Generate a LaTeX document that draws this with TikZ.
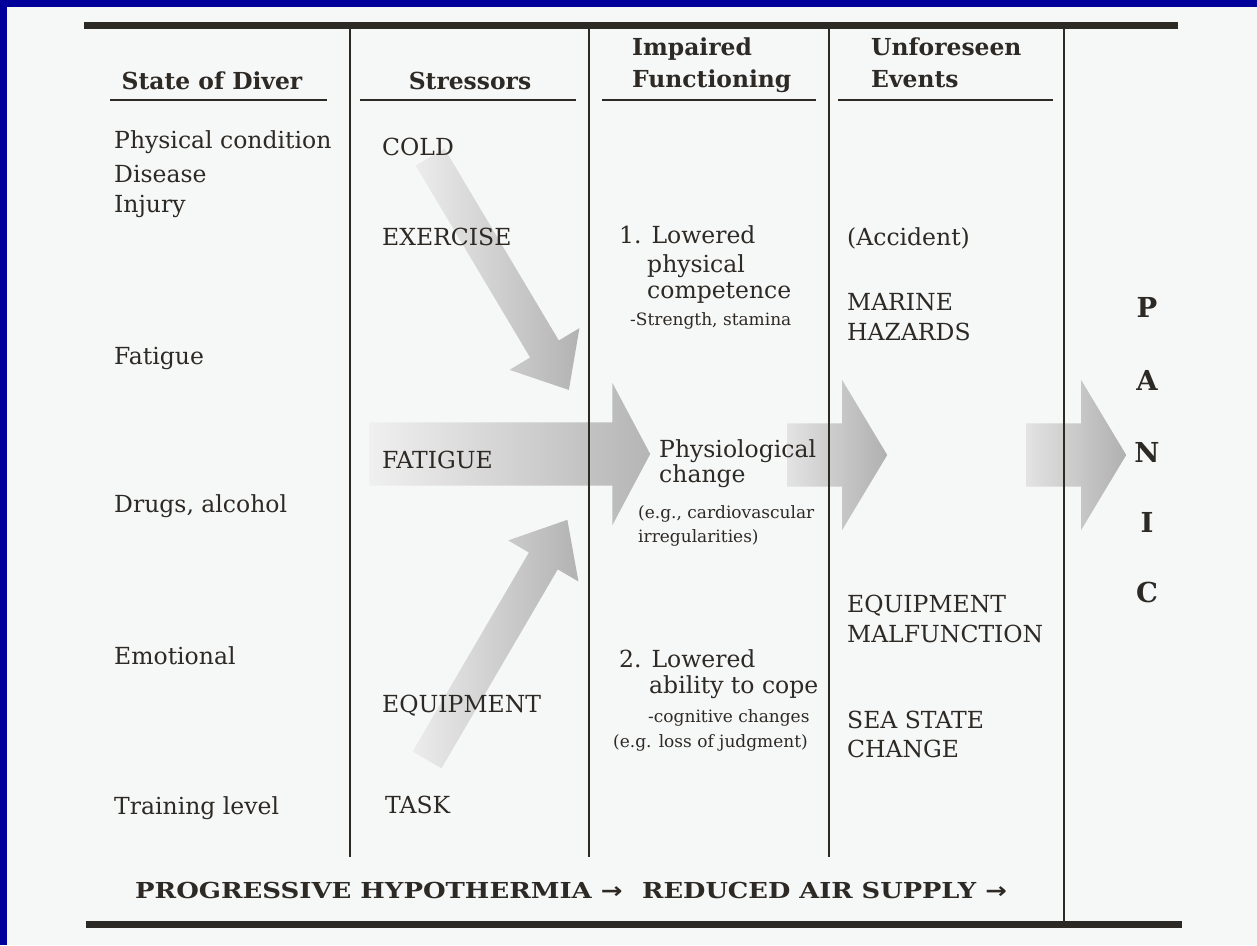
\documentclass[tikz,border=0pt]{standalone}
\usepackage{fontspec}
\usepackage{graphicx}
\setmainfont{DejaVu Serif}
\newfontfamily\arrowfont{DejaVu Sans}
\usetikzlibrary{shapes.arrows,calc}
\definecolor{slideblue}{RGB}{0,0,155}
\definecolor{paper}{RGB}{246,247,247}
\definecolor{ink}{RGB}{45,41,37}
\tikzset{
  item/.style={anchor=base west, inner sep=0pt, text=ink, font=\fontsize{23.5}{28}\selectfont},
  smalltxt/.style={anchor=base west, inner sep=0pt, text=ink, font=\fontsize{17}{20}\selectfont},
  headtxt/.style={anchor=base, inner sep=0pt, text=ink, font=\bfseries\fontsize{23.4}{28}\selectfont},
  headleft/.style={headtxt, anchor=base west},
  bottomtxt/.style={anchor=base west, inner sep=0pt, text=ink, font=\bfseries\fontsize{22}{26}\selectfont},
  panicletter/.style={anchor=base, inner sep=0pt, text=ink, font=\bfseries\fontsize{27.5}{30}\selectfont},
  thickrule/.style={draw=ink, line width=6.5pt},
  colline/.style={draw=ink, line width=1.8pt},
  underline/.style={draw=ink, line width=2pt},
  bigarrow/.style={single arrow, anchor=tail, inner xsep=0pt, inner ysep=31.5pt, shade, draw=none,
    single arrow head extend=43.5pt, single arrow tip angle=118,
    left color=gray!22, right color=gray!62},
  diagarrow/.style={single arrow, anchor=tail, inner xsep=0pt, inner ysep=16.5pt, shade, draw=none,
    single arrow head extend=24pt, single arrow tip angle=81,
    left color=gray!15, right color=gray!60}
}
\begin{document}
\begin{tikzpicture}[x=1pt,y=-1pt]
  \useasboundingbox (0,0) rectangle (1257,945);
  \fill[paper] (0,0) rectangle (1257,945);
  \fill[slideblue] (0,0) rectangle (1257,7);
  \fill[slideblue] (0,0) rectangle (7,945);

  % block arrows
  \coordinate (coldtail) at (430,157);
  \coordinate (equiptail) at (427,760);
  \node[diagarrow, rotate=-59.2, minimum height=271pt] (coldarrow) at (coldtail) {};
  \node[diagarrow, rotate=59.7, minimum height=278pt] (equiparrow) at (equiptail) {};
  \node[bigarrow, minimum height=281pt, single arrow head extend=39.5pt,
    single arrow tip angle=124, left color=gray!12, right color=gray!58] (fatiguearrow) at (369,454) {};
  \node[bigarrow, minimum height=100pt] (physarrow) at (787,455) {};
  \node[bigarrow, minimum height=100pt] (eventarrow) at (1026,455) {};

  % rules and columns
  \draw[thickrule] (84,25.5) -- (1178,25.5);
  \draw[thickrule] (86,924.5) -- (1182,924.5);
  \draw[colline] (350,29) -- (350,857);
  \draw[colline] (589,29) -- (589,857);
  \draw[colline] (829,29) -- (829,857);
  \draw[colline] (1064,29) -- (1064,922);
  \draw[underline] (110,100) -- (327,100);
  \draw[underline] (360,100) -- (576,100);
  \draw[underline] (602,100) -- (816,100);
  \draw[underline] (838,100) -- (1053,100);

  % headers
  \node[headtxt] (diverhead) at (212,89) {State of Diver};
  \node[headtxt] (stresshead) at (470,89) {Stressors};
  \node[headleft] (impairhead) at (632,55) {Impaired};
  \node[headleft] (funchead) at (632,87) {Functioning};
  \node[headleft] (unforhead) at (871,55) {Unforeseen};
  \node[headleft] (eventhead) at (871,87) {Events};

  % state of diver
  \node[item] (physcond) at (114,148) {Physical condition};
  \node[item] (disease) at (114,182) {Disease};
  \node[item] (injury) at (114,212) {Injury};
  \node[item] (fatigue) at (114,364) {Fatigue};
  \node[item] (drugs) at (114,512) {Drugs, alcohol};
  \node[item] (emotional) at (114,664) {Emotional};
  \node[item] (training) at (114,814) {Training level};

  % stressors
  \node[item] (cold) at (382,155) {COLD};
  \node[item] (exercise) at (382,245) {EXERCISE};
  \node[item] (fatiguestr) at (382,468) {FATIGUE};
  \node[item] (equipment) at (382,712) {EQUIPMENT};
  \node[item] (task) at (385,813) {TASK};

  % impaired functioning
  \node[item] (lowered1) at (619,243) {1. Lowered};
  \node[item] (physical) at (647,272) {physical};
  \node[item] (competence) at (647,298) {competence};
  \node[smalltxt] (strength) at (630,325) {-Strength, stamina};
  \node[item] (physio) at (659,457) {Physiological};
  \node[item] (change) at (659,482) {change};
  \node[smalltxt] (cardio) at (638,518) {(e.g., cardiovascular};
  \node[smalltxt] (irreg) at (638,542) {irregularities)};
  \node[item] (lowered2) at (619,667) {2. Lowered};
  \node[item] (cope) at (649,693) {ability to cope};
  \node[smalltxt] (cognitive) at (648,722) {-cognitive changes};
  \node[smalltxt] (judgment) at (613,747) {(e.g. loss of judgment)};

  % unforeseen events
  \node[item] (accident) at (847,245) {(Accident)};
  \node[item] (marine) at (847,310) {MARINE};
  \node[item] (hazards) at (847,340) {HAZARDS};
  \node[item] (equipfail) at (847,612) {EQUIPMENT};
  \node[item] (malfunction) at (847,642) {MALFUNCTION};
  \node[item] (seastate) at (847,728) {SEA STATE};
  \node[item] (seachange) at (847,757) {CHANGE};

  % panic
  \foreach \ch/\yy in {P/317,A/390,N/462,I/532,C/602}
    \node[panicletter] (panic-\ch) at (1147,\yy) {\ch};

  % bottom line
  \node[bottomtxt] (hypothermia) at (135,898) {\scalebox{1.18}[1]{PROGRESSIVE HYPOTHERMIA {\arrowfont\bfseries →}}};
  \node[bottomtxt] (airsupply) at (642,898) {\scalebox{1.17}[1]{REDUCED AIR SUPPLY {\arrowfont\bfseries →}}};
\end{tikzpicture}
\end{document}
